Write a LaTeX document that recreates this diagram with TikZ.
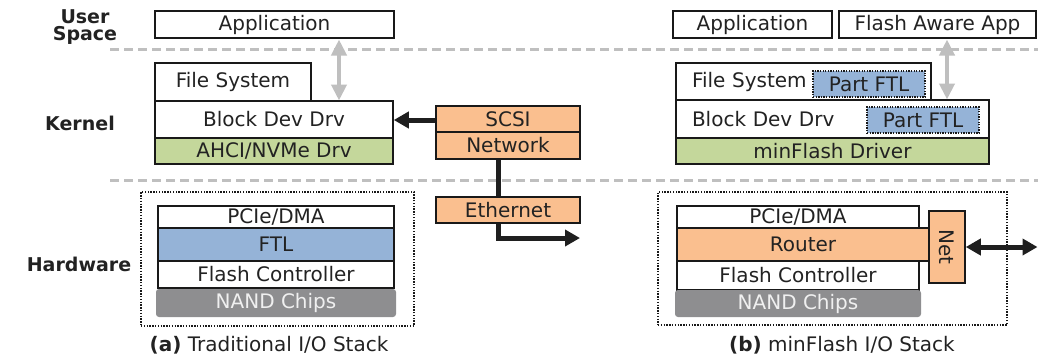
\documentclass[tikz,border=0pt]{standalone}
\usepackage{fontspec}
\setmainfont{DejaVu Sans}
\usetikzlibrary{arrows.meta}
\definecolor{txt}{HTML}{222222}
\definecolor{grn}{HTML}{C4D79B}
\definecolor{blu}{HTML}{95B3D7}
\definecolor{org}{HTML}{FABF8F}
\definecolor{nand}{HTML}{8E8E90}
\definecolor{dgrey}{HTML}{BFBFBF}
\tikzset{
  box/.style={draw=black!90, line width=1.5pt, inner sep=0pt, text=txt,
    font=\fontsize{20}{24}\selectfont},
  dotbox/.style={draw=black!90, line width=1.4pt, dash pattern=on 1.4pt off 1.4pt},
  ftlbox/.style={box, fill=blu, line width=1.3pt, dash pattern=on 1.3pt off 1.3pt},
  nandbox/.style={fill=nand, rounded corners=3pt, inner sep=0pt, text=white!94!black,
    font=\fontsize{20}{24}\selectfont},
  lvl/.style={font=\fontsize{19}{20}\selectfont\bfseries, text=txt, align=center},
  captext/.style={font=\fontsize{20}{24}\selectfont, text=txt},
  sep/.style={draw=dgrey, line width=3pt, dash pattern=on 9pt off 5pt},
  greyarr/.style={draw=dgrey, line width=4.5pt, {Triangle[length=16pt,width=15pt]}-{Triangle[length=16pt,width=15pt]}},
  blkarr/.style={draw=black!88, line width=5pt, -{Triangle[length=15pt,width=16pt]}},
  blkdarr/.style={draw=black!88, line width=5pt, {Triangle[length=15pt,width=16pt]}-{Triangle[length=15pt,width=16pt]}}
}
\begin{document}
\begin{tikzpicture}[x=1pt,y=-1pt]
\useasboundingbox (0,0) rectangle (1038,360);
% level labels
\node[lvl] (lUser) at (85,27) {User\\[-3pt]Space};
\node[lvl] (lKernel) at (80,123) {Kernel};
\node[lvl] (lHw) at (79,264) {Hardware};
% separators
\coordinate (s1a) at (110,49); \coordinate (s1b) at (1038,49);
\coordinate (s2a) at (110,180); \coordinate (s2b) at (1038,180);
\draw[sep] (s1a) -- (s1b);
\draw[sep] (s2a) -- (s2b);
% ---------- (a) ----------
\node[box, minimum width=239pt, minimum height=27pt] (appA) at (274.5,24.5) {Application};
\node[box, minimum width=156pt, minimum height=38pt] (fsA) at (233,82) {File System};
\node[box, minimum width=238pt, minimum height=37pt] (bddA) at (274,119.5) {Block Dev Drv};
\node[box, fill=grn, minimum width=238pt, minimum height=26pt] (ahci) at (274,151) {AHCI/NVMe Drv};
\coordinate (gaT) at (339,39.5); \coordinate (gaB) at (339,100.5);
\draw[greyarr] (gaT) -- (gaB);
% network side
\node[box, fill=org, minimum width=144pt, minimum height=26pt] (scsi) at (508,119) {SCSI};
\node[box, fill=org, minimum width=144pt, minimum height=27pt] (network) at (508,145.5) {Network};
\coordinate (arrY) at (0,120);
\draw[blkarr] (scsi.west |- arrY) -- (bddA.east |- arrY);
\coordinate (ethC) at (498,238);
\coordinate (ethE) at (580,238);
\draw[blkarr] (network.south -| ethC) -- (ethC) -- (ethE);
\node[box, fill=org, minimum width=144pt, minimum height=26pt] (ethernet) at (508,210) {Ethernet};
% hardware a
\node[dotbox, minimum width=273pt, minimum height=134pt, inner sep=0pt] (hwA) at (277.5,259) {};
\node[box, minimum width=236pt, minimum height=22pt] (pcieA) at (276,217) {PCIe/DMA};
\node[box, fill=blu, minimum width=236pt, minimum height=33pt] (ftlA) at (276,244.5) {FTL};
\node[box, minimum width=236pt, minimum height=27pt] (fcA) at (276,274.5) {Flash Controller};
\node[nandbox, minimum width=240pt, minimum height=28pt] (nandA) at (276,303) {NAND Chips};
\node[captext] (capA) at (269,345) {\textbf{(a)} Traditional I/O Stack};
% ---------- (b) ----------
\node[box, minimum width=159pt, minimum height=27pt] (appB) at (752.5,24.5) {Application};
\node[box, minimum width=197pt, minimum height=27pt] (faa) at (937.5,24.5) {Flash Aware App};
\node[box, minimum width=255pt, minimum height=37pt, inner xsep=16pt, text width=223pt, align=left] (fsB) at (803.5,81.5) {File System};
\node[ftlbox, minimum width=112pt, minimum height=26pt] (pftl1) at (869,84) {Part FTL};
\node[box, minimum width=313pt, minimum height=38pt, inner xsep=16pt, text width=281pt, align=left] (bddB) at (832.5,119) {Block Dev Drv};
\node[ftlbox, minimum width=112pt, minimum height=26pt] (pftl2) at (923,120) {Part FTL};
\node[box, fill=grn, minimum width=313pt, minimum height=26pt] (mfd) at (832.5,151) {minFlash Driver};
\coordinate (gbT) at (947,39.5); \coordinate (gbB) at (947,99.5);
\draw[greyarr] (gbT) -- (gbB);
% hardware b
\node[dotbox, minimum width=349pt, minimum height=133pt, inner sep=0pt] (hwB) at (832.5,258.5) {};
\node[box, minimum width=242pt, minimum height=22pt] (pcieB) at (798,217) {PCIe/DMA};
\node[box, fill=org, minimum width=252pt, minimum height=33pt] (router) at (803,244.5) {Router};
\node[box, minimum width=242pt, minimum height=29pt] (fcB) at (798,275.5) {Flash Controller};
\node[nandbox, minimum width=246pt, minimum height=27pt] (nandB) at (798,303.5) {NAND Chips};
\node[box, fill=org, rotate=-90, minimum width=72pt, minimum height=36pt] (net) at (947,247) {Net};
\coordinate (netOut) at (1037.5,247);
\draw[blkdarr] (net.north) -- (netOut);
\node[captext] (capB) at (842,345) {\textbf{(b)} minFlash I/O Stack};
\end{tikzpicture}
\end{document}
